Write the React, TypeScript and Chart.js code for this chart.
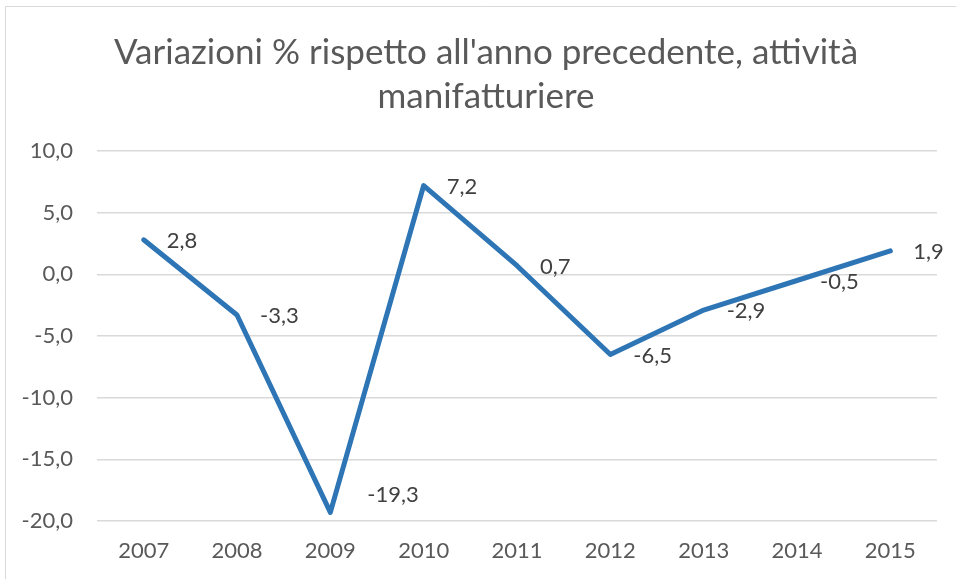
import React, { useEffect, useRef } from "react";
import { Chart, registerables } from "chart.js";

Chart.register(...registerables);

const categories = ["2007", "2008", "2009", "2010", "2011", "2012", "2013", "2014", "2015"];
const values = [2.8, -3.3, -19.3, 7.2, 0.7, -6.5, -2.9, -0.5, 1.9];
const titleLines = ["Variazioni % rispetto all'anno precedente, attività", "manifatturiere"];
const yMin = -20;
const yMax = 10;
const yStep = 5;

const FONT = "Lato, 'Open Sans', sans-serif";
const fmt = (v: number) => v.toFixed(1).replace(".", ",");

const decorPlugin = {
  id: "decor",
  beforeDraw(chart: any) {
    const ctx = chart.ctx;
    ctx.save();
    ctx.fillStyle = "#ffffff";
    ctx.fillRect(0, 0, chart.width, chart.height);
    ctx.strokeStyle = "#d9d9d9";
    ctx.lineWidth = 1;
    ctx.beginPath();
    ctx.moveTo(5.5, chart.height);
    ctx.lineTo(5.5, 6.5);
    ctx.lineTo(chart.width, 6.5);
    ctx.stroke();
    // title
    ctx.fillStyle = "#595959";
    ctx.font = `35px ${FONT}`;
    ctx.textAlign = "center";
    ctx.textBaseline = "alphabetic";
    ctx.fillText(titleLines[0], 486, 64);
    ctx.fillText(titleLines[1], 486, 108);
    ctx.restore();
  },
  afterDatasetsDraw(chart: any) {
    const ctx = chart.ctx;
    const meta = chart.getDatasetMeta(0);
    const area = chart.chartArea;
    ctx.save();
    ctx.fillStyle = "#404040";
    ctx.font = `22px ${FONT}`;
    ctx.textAlign = "left";
    ctx.textBaseline = "middle";
    meta.data.forEach((pt: any, i: number) => {
      let x = pt.x + 23;
      let y = pt.y + 1;
      if (y + 22 > area.bottom) {
        // label near the bottom edge is lifted up-right
        x = pt.x + 37;
        y = pt.y - 17;
      }
      ctx.fillText(fmt(values[i]), x, y);
    });
    ctx.restore();
  },
};

export default function App() {
  const ref = useRef<HTMLCanvasElement>(null);
  useEffect(() => {
    document.body.style.margin = "0";
    const chart = new Chart(ref.current as HTMLCanvasElement, {
      type: "line",
      data: {
        labels: categories,
        datasets: [
          {
            data: values,
            borderColor: "#2E75B6",
            borderWidth: 5,
            pointRadius: 0,
            pointHoverRadius: 0,
            tension: 0,
            borderJoinStyle: "round",
            borderCapStyle: "round",
            fill: false,
          },
        ],
      },
      options: {
        responsive: false,
        animation: false,
        events: [],
        layout: { padding: { top: 151, left: 0, right: 19, bottom: 0 } },
        plugins: {
          legend: { display: false },
          title: { display: false },
          tooltip: { enabled: false },
        },
        scales: {
          x: {
            offset: true,
            grid: { display: false, drawTicks: false },
            border: { display: false },
            ticks: {
              color: "#595959",
              font: { family: FONT, size: 22 },
              padding: 17,
              maxRotation: 0,
            },
            afterFit(scale: any) {
              scale.height = 58;
            },
          },
          y: {
            min: yMin,
            max: yMax,
            grid: { color: "#d9d9d9", lineWidth: 1.5, drawTicks: false },
            border: { display: false },
            ticks: {
              stepSize: yStep,
              color: "#595959",
              font: { family: FONT, size: 22 },
              padding: 24,
              callback: (v: any) => fmt(Number(v)),
            },
            afterFit(scale: any) {
              scale.width = 97;
            },
          },
        },
      },
      plugins: [decorPlugin],
    });
    return () => chart.destroy();
  }, []);
  return <canvas ref={ref} width={956} height={579} style={{ display: "block" }} />;
}
